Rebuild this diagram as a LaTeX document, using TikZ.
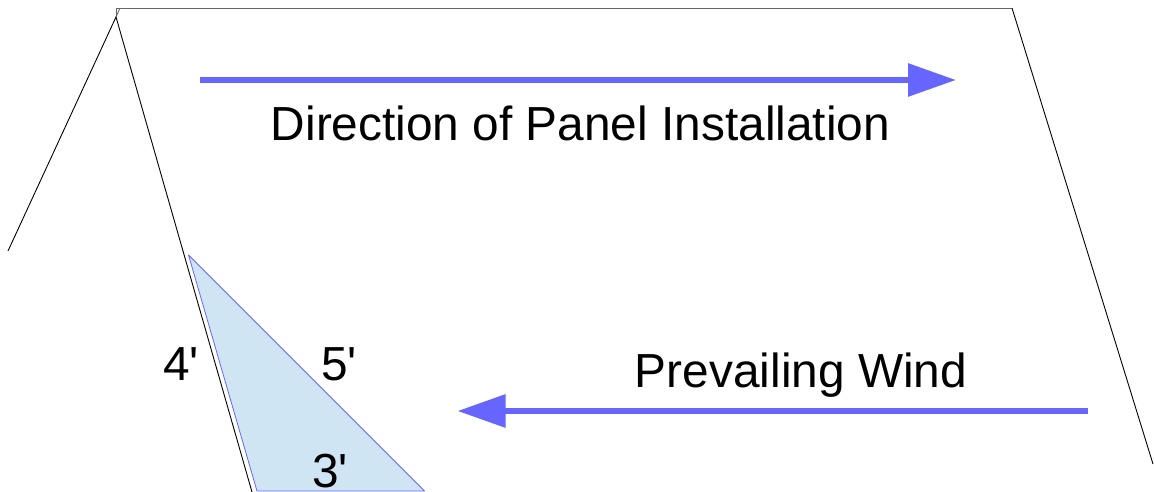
\documentclass[tikz,border=0pt]{standalone}
\usepackage{fontspec}
\setmainfont[Ligatures=TeXOff]{Liberation Sans}
\usetikzlibrary{arrows.meta}
\definecolor{arrowblue}{HTML}{6666FF}
\definecolor{triblue}{HTML}{CFE5F4}
\tikzset{
  roofline/.style={draw=black,line width=0.9pt,line join=miter},
  windarrow/.style={draw=arrowblue,line width=6pt,-{Triangle[length=48pt,width=32pt,fill=arrowblue]}},
  tribox/.style={draw=arrowblue,fill=triblue,line width=0.8pt,line join=round},
  bigtext/.style={inner sep=0pt,anchor=base,font=\fontsize{47.8}{48}\selectfont},
  dimtext/.style={inner sep=0pt,anchor=base,font=\fontsize{47.8}{48}\selectfont}
}
\begin{document}
\begin{tikzpicture}[x=1pt,y=-1pt]
\useasboundingbox (0,0) rectangle (1154,492);
% roof
\coordinate (ridgeL) at (116,8);
\coordinate (ridgeR) at (1012,8);
\coordinate (apex) at (116,17);
\coordinate (farEnd) at (8,251);
\coordinate (nearEnd) at (252,492);
\coordinate (rightEnd) at (1153,464);
\coordinate (notch) at (120,8);
\draw[roofline,draw=black!60] (apex) -- (ridgeL) -- (ridgeR);
\draw[roofline] (farEnd) -- (apex) -- (nearEnd);
\draw[roofline,draw=black!60] (apex) -- (notch);
\draw[roofline] (ridgeR) -- (rightEnd);
% triangle
\coordinate (triA) at (188.5,255);
\coordinate (triB) at (257,491);
\coordinate (triC) at (424.5,491);
\draw[tribox] (triA) -- (triB) -- (triC) -- cycle;
% arrows
\coordinate (a1s) at (200,80);
\coordinate (a1e) at (956,80);
\coordinate (a2s) at (1088,411);
\coordinate (a2e) at (457.5,411);
\draw[windarrow] (a1s) -- (a1e);
\draw[windarrow] (a2s) -- (a2e);
% text
\node[bigtext] (dir) at (580.5,141) {Direction of Panel Installation};
\node[bigtext] (wind) at (801,387) {Prevailing Wind};
\node[dimtext] (four) at (181,380) {4'};
\node[dimtext] (five) at (339,380) {5'};
\node[dimtext] (three) at (330,487) {3'};
\end{tikzpicture}
\end{document}
